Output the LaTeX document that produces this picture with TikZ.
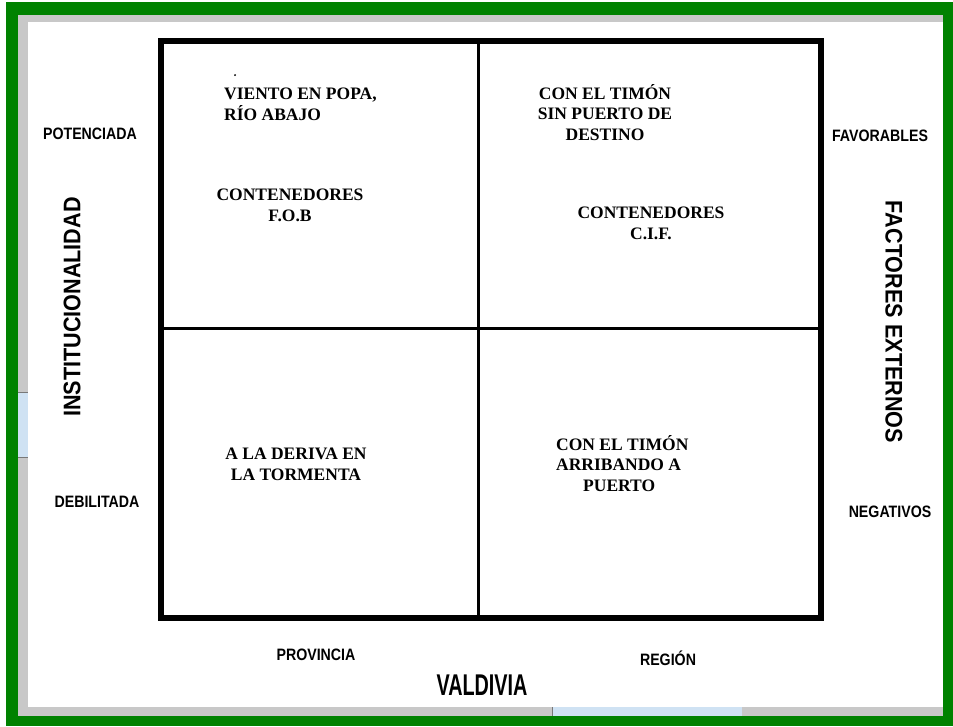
\documentclass[tikz,border=0pt]{standalone}
\usepackage{fontspec}
\setmainfont{Liberation Serif}
\newfontfamily\labfont[FakeStretch=0.86]{Liberation Sans}
\newfontfamily\axfont[FakeStretch=0.9]{Liberation Sans}
\newfontfamily\valfont[FakeStretch=0.66]{Liberation Sans}
\newfontfamily\quadfont{Liberation Serif}
\definecolor{framegreen}{RGB}{0,130,0}
\definecolor{framegrey}{RGB}{200,200,200}
\definecolor{stripblue}{RGB}{207,226,243}
\definecolor{stripedge}{RGB}{120,120,120}
\begin{document}
\begin{tikzpicture}[x=1pt,y=-1pt,
  lab/.style={font=\labfont\bfseries\fontsize{16.5}{18}\selectfont, inner sep=0pt, anchor=base},
  ax/.style={font=\axfont\bfseries\fontsize{24}{26}\selectfont, inner sep=0pt},
  quad/.style={font=\quadfont\bfseries\fontsize{17.5}{20.5}\selectfont, inner sep=0pt}]
\useasboundingbox (0,0) rectangle (953,726);
% window frame
\fill[white] (0,0) rectangle (953,726);
\fill[framegreen] (6,2) rectangle (953,726);
\fill[framegrey] (18,15) rectangle (943,716);
\fill[white] (28,22) rectangle (943,707);
\fill[stripblue] (18,392) rectangle (28,457);
\draw[stripedge, line width=1pt] (18,392) -- (28,392) (18,457) -- (28,457);
\fill[stripblue] (552,707) rectangle (742,716);
\draw[stripedge, line width=1pt] (552.5,707) -- (552.5,716);
% grid
\coordinate (tl) at (161,40.5);
\coordinate (br) at (821,618);
\coordinate (mt) at (478,40.5);
\coordinate (mb) at (478,618);
\coordinate (ml) at (161,328);
\coordinate (mr) at (821,328);
\draw[line width=3pt] (mt) -- (mb);
\draw[line width=3pt] (ml) -- (mr);
\draw[line width=6pt] (tl) rectangle (br);
% small dot
\fill (235,75) circle (1pt);
% side labels
\node[lab] (pot) at (90,139) {POTENCIADA};
\node[lab] (deb) at (97,507) {DEBILITADA};
\node[lab] (fav) at (880,141) {FAVORABLES};
\node[lab] (neg) at (890,517) {NEGATIVOS};
\node[lab] (prov) at (316,660) {PROVINCIA};
\node[lab] (reg) at (668,665) {REGIÓN};
\node[inner sep=0pt, anchor=base, font=\valfont\bfseries\fontsize{30}{32}\selectfont] (val) at (482,695) {VALDIVIA};
\node[ax, rotate=90] (inst) at (72,307) {INSTITUCIONALIDAD};
\node[ax, rotate=-90] (fact) at (894,322) {FACTORES EXTERNOS};
% quadrant texts
\node[quad, anchor=north west, align=left] (q1a) at (224,88) {VIENTO EN POPA,\\RÍO ABAJO};
\node[quad, anchor=north, align=center] (q1b) at (290,189) {CONTENEDORES\\F.O.B};
\node[quad, anchor=north, align=center] (q2a) at (605,84) {CON EL TIMÓN\\SIN PUERTO DE\\DESTINO};
\node[quad, anchor=north, align=center] (q2b) at (651,207) {CONTENEDORES\\C.I.F.};
\node[quad, anchor=north, align=center] (q3) at (296,448) {A LA DERIVA EN\\LA TORMENTA};
\node[quad, anchor=north west, align=left] (q4) at (556,435) {CON EL TIMÓN\\ARRIBANDO A\\\hspace*{27pt}PUERTO};
\end{tikzpicture}
\end{document}
